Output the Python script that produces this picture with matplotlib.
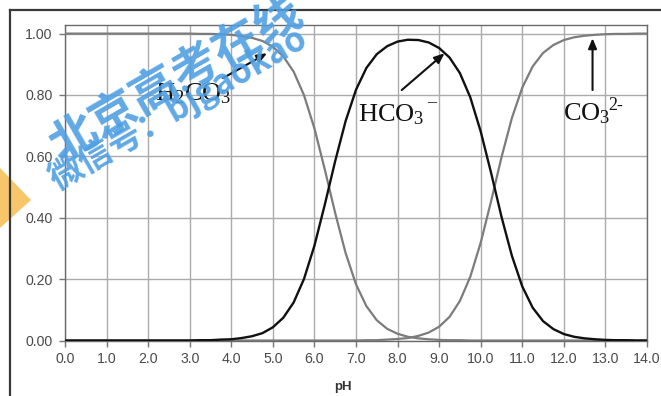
import numpy as np
import matplotlib
matplotlib.use("Agg")
import matplotlib.pyplot as plt
from matplotlib.lines import Line2D
from matplotlib.patches import Polygon

# ---------------- data ----------------
ph = [i * 0.25 for i in range(57)]  # 0.0 ... 14.0

h2co3 = [1.000] * 13 + [
    0.999, 0.999, 0.998, 0.996, 0.992, 0.986, 0.976, 0.957, 0.926, 0.876,
    0.799, 0.691, 0.557, 0.415, 0.285, 0.183, 0.112, 0.066, 0.038, 0.022,
    0.012, 0.007, 0.004, 0.002, 0.001, 0.001] + [0.000] * 18

hco3 = [0.000] * 13 + [
    0.001, 0.001, 0.003, 0.004, 0.008, 0.014, 0.024, 0.043, 0.074, 0.124,
    0.201, 0.309, 0.443, 0.585, 0.715, 0.817, 0.888, 0.933, 0.959, 0.974,
    0.980, 0.979, 0.971, 0.953, 0.922, 0.871, 0.792, 0.681, 0.546, 0.403,
    0.276, 0.176, 0.107, 0.063, 0.037, 0.021, 0.012, 0.007, 0.004, 0.002,
    0.001, 0.001, 0.000, 0.000]

co3 = [0.000] * 29 + [
    0.001, 0.001, 0.003, 0.005, 0.008, 0.015, 0.026, 0.045, 0.077, 0.129,
    0.208, 0.319, 0.454, 0.597, 0.725, 0.824, 0.893, 0.937, 0.963, 0.979,
    0.988, 0.993, 0.996, 0.998, 0.999, 0.999, 1.000, 1.000]

x_ticks = [0, 1, 2, 3, 4, 5, 6, 7, 8, 9, 10, 11, 12, 13, 14]
x_ticklabels = ["0.0", "1.0", "2.0", "3.0", "4.0", "5.0", "6.0", "7.0",
                "8.0", "9.0", "10.0", "11.0", "12.0", "13.0", "14.0"]
y_ticks = [0.0, 0.2, 0.4, 0.6, 0.8, 1.0]
y_ticklabels = ["0.00", "0.20", "0.40", "0.60", "0.80", "1.00"]

# ---------------- figure ----------------
W, H = 661, 396
fig = plt.figure(figsize=(W / 100, H / 100), dpi=100)
fig.patch.set_facecolor("white")

ax = fig.add_axes([65 / W, 1 - 340.5 / H, 582 / W, (340.5 - 25) / H])
ax.set_xlim(0, 14)
ax.set_ylim(0, 1.028)

grid_c = "#ababab"
ax.set_xticks(x_ticks)
ax.set_xticklabels(x_ticklabels)
ax.set_yticks(y_ticks)
ax.set_yticklabels(y_ticklabels)
ax.grid(True, color=grid_c, lw=1.0, zorder=0)
ax.set_axisbelow(True)
for lab in ax.get_xticklabels() + ax.get_yticklabels():
    lab.set_family("Liberation Sans")
    lab.set_fontsize(10.2)
    lab.set_color("#4a4a4a")
ax.tick_params(axis="both", direction="out", length=4, width=1, color="#777777")
ax.tick_params(axis="y", pad=5)
ax.tick_params(axis="x", pad=4)
for s in ax.spines.values():
    s.set_color("#6a6a6a")
    s.set_linewidth(1.0)

gray = "#7c7c7c"
ax.plot(ph, h2co3, color=gray, lw=1.6, zorder=3, solid_capstyle="round", solid_joinstyle="round")
ax.plot(ph, co3, color=gray, lw=1.6, zorder=3, solid_capstyle="round", solid_joinstyle="round")
ax.plot(ph, hco3, color="#111111", lw=1.7, zorder=4, solid_capstyle="round", solid_joinstyle="round")

arrowprops = dict(arrowstyle="-|>,head_length=0.6,head_width=0.25",
                  color="#111111", lw=1.5, shrinkA=0, shrinkB=0)
serif = "Liberation Serif"
plt.rcParams["mathtext.fontset"] = "custom"
plt.rcParams["mathtext.rm"] = serif
plt.rcParams["mathtext.it"] = serif + ":italic"

ax.annotate("", xy=(4.86, 0.936), xytext=(3.80, 0.855), arrowprops=arrowprops, zorder=5)
ax.annotate("", xy=(9.13, 0.936), xytext=(8.10, 0.816), arrowprops=arrowprops, zorder=5)
ax.annotate("", xy=(12.69, 0.985), xytext=(12.69, 0.816), arrowprops=arrowprops, zorder=5)

ax.text(2.17, 0.783, r"$\mathregular{H_2CO_3}$", family=serif, fontsize=19,
        color="#111111", va="baseline", ha="left", zorder=6)
ax.text(7.04, 0.713, r"$\mathregular{HCO_3}$", family=serif, fontsize=19,
        color="#111111", va="baseline", ha="left", zorder=6)
ax.text(8.72, 0.775, "\u2013", family=serif, fontsize=13,
        color="#111111", va="center", ha="left", zorder=6)
ax.text(13.06, 0.752, "2-", family=serif, fontsize=13,
        color="#111111", va="baseline", ha="left", zorder=6)
ax.text(11.97, 0.718, r"$\mathregular{CO_3}$", family=serif, fontsize=19,
        color="#111111", va="baseline", ha="left", zorder=6)

fig.text(343 / W, 1 - 387 / H, "pH", family="Liberation Sans", fontweight="bold",
         fontsize=9.5, color="#333333", ha="center", va="center")

# outer frame (cropped)
fig.add_artist(Line2D([10 / W, 10 / W], [0, 1 - 10 / H], transform=fig.transFigure,
                      color="#3a3a3a", lw=1.6))
fig.add_artist(Line2D([10 / W, 1], [1 - 10 / H, 1 - 10 / H], transform=fig.transFigure,
                      color="#3a3a3a", lw=1.6))

# orange triangle
tri = Polygon([(0, 1 - 168 / H), (31 / W, 1 - 200 / H), (0, 1 - 228 / H)],
              closed=True, transform=fig.transFigure, facecolor="#f7c56a",
              edgecolor="none", zorder=-1)
fig.add_artist(tri)

# watermark
wm_c = "#4f9fe3"
fig.text(176 / W, 1 - 79 / H, "北京高考在线", family=["Noto Sans CJK SC", "DejaVu Sans"],
         fontweight="bold", fontsize=34, color=wm_c, alpha=0.9, rotation=30,
         rotation_mode="anchor", ha="center", va="center", zorder=10)
fig.text(178 / W, 1 - 108 / H, "微信号：bjgaokao", family=["Noto Sans CJK SC", "DejaVu Sans"],
         fontweight="bold", fontsize=24.5, color=wm_c, alpha=0.9, rotation=30,
         rotation_mode="anchor", ha="center", va="center", zorder=10)

fig.savefig("out.png", dpi=100)
